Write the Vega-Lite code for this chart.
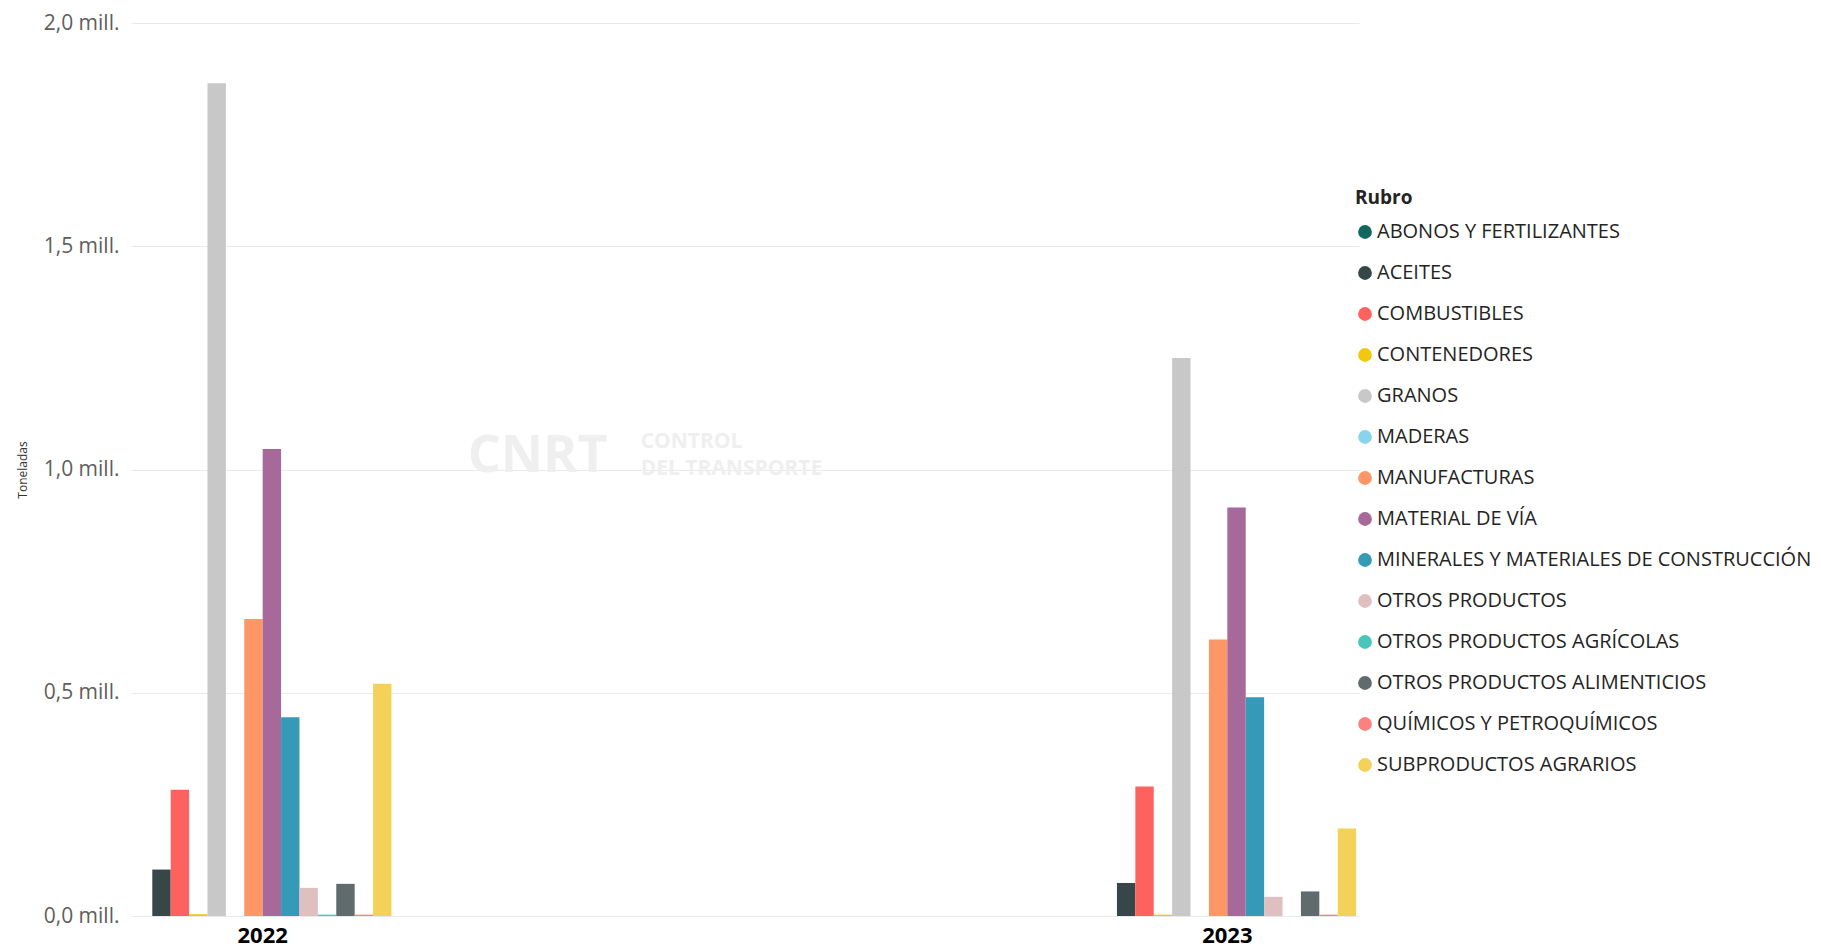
{
  "$schema": "https://vega.github.io/schema/vega-lite/v6.json",
  "width": 1228,
  "height": 893,
  "autosize": "none",
  "padding": {"left": 131, "top": 23, "right": 462, "bottom": 33},
  "background": "white",
  "config": {"view": {"stroke": null}, "font": "Open Sans"},
  "data": {
    "values": [
      {"Año": "2022", "Rubro": "ABONOS Y FERTILIZANTES", "Toneladas": 0},
      {"Año": "2022", "Rubro": "ACEITES", "Toneladas": 104000},
      {"Año": "2022", "Rubro": "COMBUSTIBLES", "Toneladas": 283000},
      {"Año": "2022", "Rubro": "CONTENEDORES", "Toneladas": 4000},
      {"Año": "2022", "Rubro": "GRANOS", "Toneladas": 1865000},
      {"Año": "2022", "Rubro": "MADERAS", "Toneladas": 0},
      {"Año": "2022", "Rubro": "MANUFACTURAS", "Toneladas": 665000},
      {"Año": "2022", "Rubro": "MATERIAL DE VÍA", "Toneladas": 1046000},
      {"Año": "2022", "Rubro": "MINERALES Y MATERIALES DE CONSTRUCCIÓN", "Toneladas": 445000},
      {"Año": "2022", "Rubro": "OTROS PRODUCTOS", "Toneladas": 63000},
      {"Año": "2022", "Rubro": "OTROS PRODUCTOS AGRÍCOLAS", "Toneladas": 3000},
      {"Año": "2022", "Rubro": "OTROS PRODUCTOS ALIMENTICIOS", "Toneladas": 72000},
      {"Año": "2022", "Rubro": "QUÍMICOS Y PETROQUÍMICOS", "Toneladas": 3000},
      {"Año": "2022", "Rubro": "SUBPRODUCTOS AGRARIOS", "Toneladas": 520000},
      {"Año": "2023", "Rubro": "ABONOS Y FERTILIZANTES", "Toneladas": 0},
      {"Año": "2023", "Rubro": "ACEITES", "Toneladas": 74000},
      {"Año": "2023", "Rubro": "COMBUSTIBLES", "Toneladas": 290000},
      {"Año": "2023", "Rubro": "CONTENEDORES", "Toneladas": 3000},
      {"Año": "2023", "Rubro": "GRANOS", "Toneladas": 1250000},
      {"Año": "2023", "Rubro": "MADERAS", "Toneladas": 0},
      {"Año": "2023", "Rubro": "MANUFACTURAS", "Toneladas": 619000},
      {"Año": "2023", "Rubro": "MATERIAL DE VÍA", "Toneladas": 915000},
      {"Año": "2023", "Rubro": "MINERALES Y MATERIALES DE CONSTRUCCIÓN", "Toneladas": 490000},
      {"Año": "2023", "Rubro": "OTROS PRODUCTOS", "Toneladas": 43000},
      {"Año": "2023", "Rubro": "OTROS PRODUCTOS AGRÍCOLAS", "Toneladas": 0},
      {"Año": "2023", "Rubro": "OTROS PRODUCTOS ALIMENTICIOS", "Toneladas": 55000},
      {"Año": "2023", "Rubro": "QUÍMICOS Y PETROQUÍMICOS", "Toneladas": 3000},
      {"Año": "2023", "Rubro": "SUBPRODUCTOS AGRARIOS", "Toneladas": 196000}
    ]
  },
  "layer": [
    {
      "mark": {"type": "bar"},
      "encoding": {
        "x": {
          "field": "Año",
          "type": "nominal",
          "scale": {"paddingInner": 0.733, "paddingOuter": 0.003},
          "axis": {
            "title": null,
            "labelAngle": 0,
            "labelFontSize": 22,
            "labelFontWeight": "bold",
            "labelColor": "#000000",
            "labelPadding": 9,
            "ticks": false,
            "domain": false
          }
        },
        "xOffset": {
          "field": "Rubro",
          "type": "nominal",
          "sort": ["ABONOS Y FERTILIZANTES", "ACEITES", "COMBUSTIBLES", "CONTENEDORES", "GRANOS", "MADERAS", "MANUFACTURAS", "MATERIAL DE VÍA", "MINERALES Y MATERIALES DE CONSTRUCCIÓN", "OTROS PRODUCTOS", "OTROS PRODUCTOS AGRÍCOLAS", "OTROS PRODUCTOS ALIMENTICIOS", "QUÍMICOS Y PETROQUÍMICOS", "SUBPRODUCTOS AGRARIOS"],
          "scale": {"paddingInner": 0, "paddingOuter": 0}
        },
        "y": {
          "field": "Toneladas",
          "type": "quantitative",
          "scale": {"domain": [0, 2000000]},
          "axis": {
            "title": "Toneladas",
            "titleFontSize": 12,
            "titleFontWeight": "normal",
            "titleColor": "#333333",
            "titlePadding": 14,
            "values": [0, 500000, 1000000, 1500000, 2000000],
            "labelExpr": "replace(format(datum.value / 1000000, '.1f'), '.', ',') + ' mill.'",
            "labelFontSize": 21,
            "labelColor": "#605e5c",
            "labelPadding": 12,
            "ticks": false,
            "domain": false,
            "grid": true,
            "gridColor": "#eaeaea",
            "gridWidth": 1
          }
        },
        "color": {
          "field": "Rubro",
          "type": "nominal",
          "scale": {
            "domain": ["ABONOS Y FERTILIZANTES", "ACEITES", "COMBUSTIBLES", "CONTENEDORES", "GRANOS", "MADERAS", "MANUFACTURAS", "MATERIAL DE VÍA", "MINERALES Y MATERIALES DE CONSTRUCCIÓN", "OTROS PRODUCTOS", "OTROS PRODUCTOS AGRÍCOLAS", "OTROS PRODUCTOS ALIMENTICIOS", "QUÍMICOS Y PETROQUÍMICOS", "SUBPRODUCTOS AGRARIOS"],
            "range": ["#12675f", "#374649", "#fd625e", "#f2c80f", "#c8c8c8", "#8ad4eb", "#fe9666", "#a66999", "#3599b8", "#dfbfbf", "#4ac5bb", "#5f6b6d", "#fb8281", "#f4d25a"]
          },
          "legend": {
            "orient": "none",
            "legendX": 1224,
            "legendY": 166,
            "title": "Rubro",
            "titleFontSize": 19,
            "titleFontWeight": "bold",
            "titleColor": "#252423",
            "titlePadding": 14,
            "labelFontSize": 20,
            "labelColor": "#252423",
            "labelLimit": 700,
            "labelOffset": 2,
            "symbolType": "circle",
            "symbolSize": 190,
            "symbolStrokeWidth": 0,
            "rowPadding": 21
          }
        }
      }
    },
    {
      "data": {"values": [{"t": "CNRT"}]},
      "mark": {"type": "text", "align": "left", "baseline": "middle", "fontSize": 52, "fontWeight": "bold", "color": "#efefef", "dx": 205, "dy": -14},
      "encoding": {
        "x": {"datum": "2022"},
        "y": {"datum": 1000000},
        "text": {"field": "t"}
      }
    },
    {
      "data": {"values": [{"t": "CONTROL"}]},
      "mark": {"type": "text", "align": "left", "baseline": "middle", "fontSize": 21, "fontWeight": "bold", "color": "#efefef", "dx": 378, "dy": -28},
      "encoding": {
        "x": {"datum": "2022"},
        "y": {"datum": 1000000},
        "text": {"field": "t"}
      }
    },
    {
      "data": {"values": [{"t": "DEL TRANSPORTE"}]},
      "mark": {"type": "text", "align": "left", "baseline": "middle", "fontSize": 21, "fontWeight": "bold", "color": "#efefef", "dx": 378, "dy": -1},
      "encoding": {
        "x": {"datum": "2022"},
        "y": {"datum": 1000000},
        "text": {"field": "t"}
      }
    }
  ]
}
